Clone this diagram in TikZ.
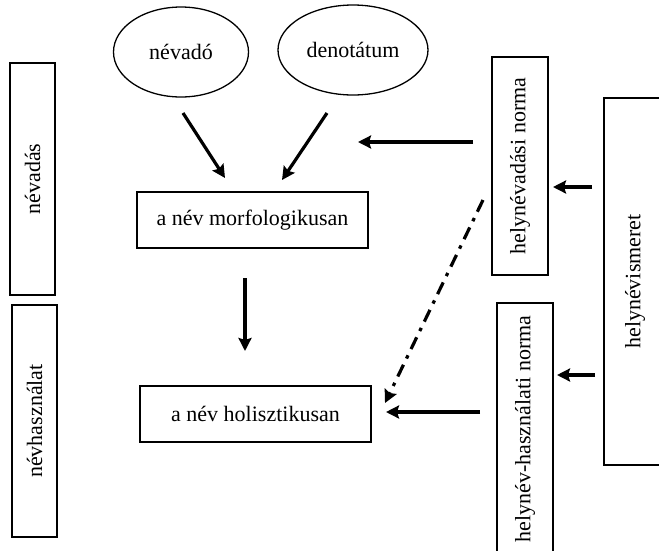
\documentclass[tikz,border=0pt]{standalone}
\usepackage{fontspec}
\setmainfont{Liberation Serif}
\usetikzlibrary{arrows.meta,shapes.geometric}
\begin{document}
\begin{tikzpicture}[x=1pt,y=-1pt,
  every node/.style={font=\fontsize{22}{24}\selectfont, inner sep=0pt},
  oval/.style={draw, ellipse, line width=1.3pt},
  box/.style={draw, rectangle, line width=1.3pt},
  vbox/.style={draw, rectangle, line width=1.3pt, rotate=90},
  arr/.style={line width=3.2pt, -{Stealth[length=13pt,width=13pt,inset=2pt]}},
  dashdot/.style={arr, dash pattern=on 13pt off 7pt on 3.5pt off 7pt}]
\useasboundingbox (0,0) rectangle (659,550);
\fill[white] (0,0) rectangle (659,550);
% ellipses
\node[oval, minimum width=135pt, minimum height=90pt] (nevado) at (181,52) {névadó};
\node[oval, minimum width=150pt, minimum height=90pt] (denot) at (353,50) {denotátum};
% left boxes
\node[vbox, minimum width=232pt, minimum height=45pt] (nevadas) at (32.5,179) {névadás};
\node[vbox, minimum width=232pt, minimum height=45pt] (nevhasz) at (34.5,421) {névhasználat};
% middle boxes
\node[box, minimum width=231pt, minimum height=56pt] (morf) at (252.5,220) {a név morfologikusan};
\node[box, minimum width=231pt, minimum height=56pt] (holis) at (255.5,414) {a név holisztikusan};
% right boxes
\node[vbox, minimum width=218pt, minimum height=56pt] (hnadasi) at (520,166) {helynévadási norma};
\node[vbox, minimum width=252pt, minimum height=56pt] (hnhasz) at (525,429) {helynév-használati norma};
\node[vbox, minimum width=367pt, minimum height=62pt] (hnism) at (635,281.5) {helynévismeret};
% arrow end points
\coordinate (a1s) at (183,113); \coordinate (a1e) at (225,178);
\coordinate (a2s) at (327,113); \coordinate (a2e) at (282,180);
\coordinate (a3s) at (473,142); \coordinate (a3e) at (358,142);
\coordinate (a4s) at (245,278); \coordinate (a4e) at (245,351);
\coordinate (a5s) at (483,200); \coordinate (a5e) at (385,403);
\coordinate (a6s) at (480,412); \coordinate (a6e) at (386,412);
\coordinate (a7s) at (592,187); \coordinate (a7e) at (553,187);
\coordinate (a8s) at (595,375); \coordinate (a8e) at (557,375);
\draw[arr] (a1s) -- (a1e);
\draw[arr] (a2s) -- (a2e);
\draw[arr] (a3s) -- (a3e);
\draw[arr] (a4s) -- (a4e);
\draw[dashdot] (a5s) -- (a5e);
\draw[arr] (a6s) -- (a6e);
\draw[arr] (a7s) -- (a7e);
\draw[arr] (a8s) -- (a8e);
\end{tikzpicture}
\end{document}
